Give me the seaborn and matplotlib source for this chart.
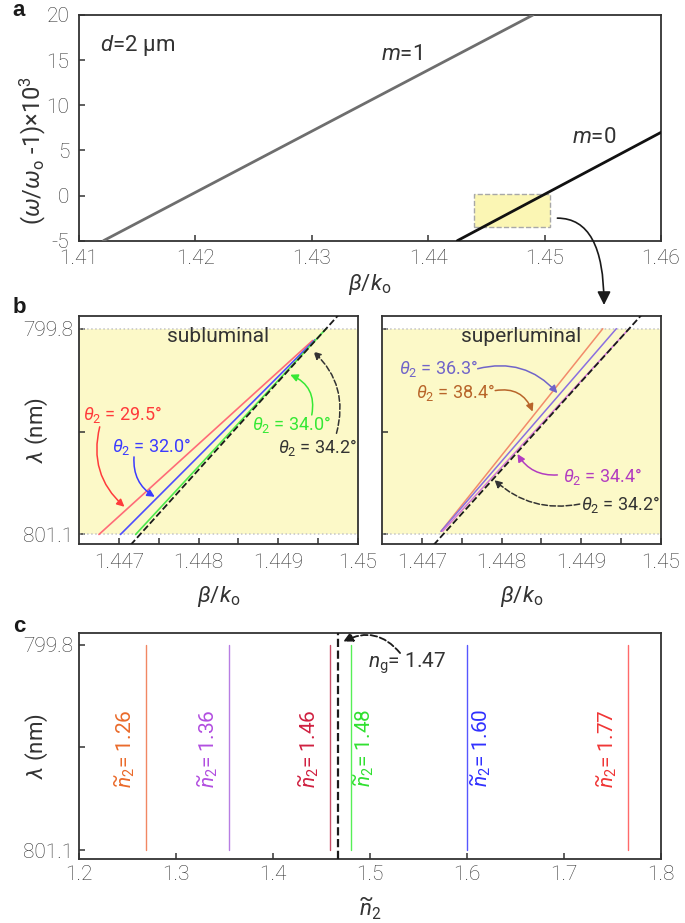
import numpy as np
import pandas as pd
import matplotlib
matplotlib.use("Agg")
import matplotlib.pyplot as plt
from matplotlib.patches import Rectangle
from matplotlib.ticker import FixedLocator, MultipleLocator, FuncFormatter
import seaborn as sns

# ---------------- data ----------------
# panel a: dispersion of the two guided modes, d = 2 um
mode_labels = ["$m$=1", "$m$=0"]
mode_beta = [[1.4121, 1.4490], [1.4425, 1.4600]]
mode_omega = [[-5.0, 20.0], [-5.0, 7.0]]
mode_colors = ["#6e6e6e", "#111111"]
zoom_beta = [1.4439, 1.4505]
zoom_omega = [-3.45, 0.13]

# panel b: wavelength vs beta/k_o for several theta_2
lam_band = [799.8, 801.1]
luminal_theta = "34.2"
luminal_beta = [1.44978, 1.44714]
luminal_lam = [799.70, 801.17]

sub_theta = ["29.5", "32.0", "34.0"]
sub_beta = [[1.44675, 1.44943], [1.44702, 1.44946], [1.44721, 1.44960]]
sub_lam = [[801.1, 799.875], [801.1, 799.87], [801.1, 799.80]]
sub_line_colors = ["#ff6b78", "#4d4dff", "#4ee84e"]
sub_text_colors = ["#ff3b3b", "#3b3bff", "#35e835"]

sup_theta = ["38.4", "36.3", "34.4"]
sup_beta = [[1.44724, 1.44927], [1.44724, 1.44944], [1.44726, 1.44960]]
sup_lam = [[801.08, 799.80], [801.08, 799.80], [801.08, 799.80]]
sup_line_colors = ["#f28b6a", "#8a6fe0", "#d77ad7"]
sup_text_colors = ["#b8652a", "#7064c8", "#b23cc0"]

# panel c: effective index n2 of each wave packet
n2_values = [1.269, 1.355, 1.459, 1.480, 1.600, 1.766]
n2_labels = ["1.26", "1.36", "1.46", "1.48", "1.60", "1.77"]
n2_line_colors = ["#f07a52", "#b070e0", "#c23a55", "#45ee45", "#4545ff", "#ff5a5a"]
n2_text_colors = ["#ea6a2a", "#b24ee0", "#d02040", "#30e030", "#3030ff", "#f03535"]
n2_side = ["l", "l", "l", "r", "r", "l"]
n_group = 1.467
n_group_label = "1.47"

# ---------------- style ----------------
sns.set_theme(style="ticks", rc={
    "axes.edgecolor": "#333333", "axes.linewidth": 1.3,
    "xtick.color": "#333333", "ytick.color": "#333333",
    "text.color": "#333333", "axes.labelcolor": "#333333",
    "axes.unicode_minus": False,
})
plt.rcParams["font.family"] = ["Roboto", "DejaVu Sans"]
plt.rcParams["font.weight"] = "light"
plt.rcParams["axes.labelweight"] = "normal"
plt.rcParams["mathtext.fontset"] = "custom"
plt.rcParams["mathtext.rm"] = "Roboto:weight=normal"
plt.rcParams["mathtext.it"] = "Roboto:style=italic:weight=normal"
plt.rcParams["mathtext.bf"] = "Roboto:weight=bold"

TICK = 15
LABEL = 16
YELLOW = "#fcf9c8"
TXT = dict(fontweight="normal")

fig = plt.figure(figsize=(6.85, 9.23), dpi=100)
W, H = 685.0, 923.0


def add_ax(l, r, t, b):
    return fig.add_axes([l / W, 1 - b / H, (r - l) / W, (b - t) / H])


def style_ticks(ax, xpad, ypad):
    ax.tick_params(which="both", direction="in", length=4, width=1.1,
                   labelsize=TICK, top=False, right=False)
    ax.tick_params(axis="x", pad=xpad)
    ax.tick_params(axis="y", pad=ypad)


# ---------------- panel a ----------------
ax_a = add_ax(79, 661, 15, 240.7)
ax_a.add_patch(Rectangle((zoom_beta[0], zoom_omega[0]), zoom_beta[1] - zoom_beta[0],
                         zoom_omega[1] - zoom_omega[0], facecolor="#fbf6b4",
                         edgecolor="#a8a8a8", ls="--", lw=1.0, zorder=1))
for lab, xb, yo, col in zip(mode_labels, mode_beta, mode_omega, mode_colors):
    sns.lineplot(x=xb, y=yo, ax=ax_a, color=col, lw=2.0, estimator=None, sort=False, zorder=3)
ax_a.set_xlim(1.41, 1.46)
ax_a.set_ylim(-5, 20)
ax_a.xaxis.set_major_locator(MultipleLocator(0.01))
ax_a.yaxis.set_major_locator(MultipleLocator(5))
ax_a.xaxis.set_major_formatter(FuncFormatter(lambda v, p: f"{v:.2f}"))
style_ticks(ax_a, 6, 7)
ax_a.set_xlabel(r"$\beta/k_{\rm o}$", fontsize=LABEL)
ax_a.set_ylabel(r"$(\omega/\omega_{\rm o}$ -1)×10$^3$", fontsize=17)
ax_a.xaxis.set_label_coords(0.5, -0.14)
ax_a.yaxis.set_label_coords(-0.053, 0.40)
ax_a.text(1.4118, 16.6, r"$d$=2 μm", fontsize=16, ha="left", va="center", **TXT)
ax_a.text(1.4377, 15.6, mode_labels[0], fontsize=16, ha="center", va="center", **TXT)
ax_a.text(1.4543, 6.45, mode_labels[1], fontsize=16, ha="center", va="center", **TXT)
ax_a.annotate("", xy=(604 / W, 1 - 305 / H), xycoords="figure fraction",
              xytext=(1.4511, -2.5), textcoords="data", annotation_clip=False,
              arrowprops=dict(arrowstyle="-|>", color="k", lw=1.2, mutation_scale=20,
                              shrinkA=0, shrinkB=0,
                              connectionstyle="angle3,angleA=0,angleB=90"))


# ---------------- panel b ----------------
def panel_b_frame(ax, show_ylabels):
    ax.axhspan(lam_band[0], lam_band[1], color=YELLOW, zorder=0, lw=0)
    for lv in lam_band:
        ax.axhline(lv, color="#c4c4c4", ls=":", lw=1.1, zorder=1)
    sns.lineplot(x=luminal_beta, y=luminal_lam, ax=ax, color="k", lw=1.3,
                 linestyle="--", estimator=None, sort=False, zorder=4)
    ax.set_xlim(1.4465, 1.45)
    ax.set_ylim(801.157, 799.72)
    ax.xaxis.set_major_locator(FixedLocator([1.447, 1.448, 1.449, 1.450]))
    ax.xaxis.set_minor_locator(FixedLocator([1.4475, 1.4485, 1.4495]))
    ax.xaxis.set_major_formatter(FuncFormatter(lambda v, p: f"{v:g}"))
    ax.yaxis.set_major_locator(FixedLocator([799.8, 800.45, 801.1]))
    if show_ylabels:
        ax.set_yticklabels(["799.8", "", "801.1"])
    else:
        ax.set_yticklabels([])
    style_ticks(ax, 7, 4.5)
    ax.set_xlabel(r"$\beta/k_{\rm o}$", fontsize=LABEL)
    ax.xaxis.set_label_coords(0.5, -0.18)


def theta_text(ax, theta, color, pos, tip, start, rad, dashed=False):
    ax.text(pos[0], pos[1], r"$\theta_2$ = " + theta + "°", color=color,
            fontsize=13, ha="left", va="center", **TXT)
    ax.annotate("", xy=tip, xytext=start,
                arrowprops=dict(arrowstyle="-|>", color=color, lw=1.1,
                                ls="--" if dashed else "-", mutation_scale=11,
                                shrinkA=0, shrinkB=0,
                                connectionstyle=f"arc3,rad={rad}"))


ax_b1 = add_ax(79, 358, 316, 543.5)
panel_b_frame(ax_b1, True)
df_sub = pd.DataFrame({"beta": np.concatenate(sub_beta), "lam": np.concatenate(sub_lam),
                       "theta": np.repeat(sub_theta, 2)})
sns.lineplot(data=df_sub, x="beta", y="lam", hue="theta", ax=ax_b1,
             palette=dict(zip(sub_theta, sub_line_colors)), lw=1.2,
             estimator=None, sort=False, legend=False, zorder=3)
ax_b1.set_ylabel(r"$\lambda$ (nm)", fontsize=LABEL)
ax_b1.yaxis.set_label_coords(-0.104, 0.5)
ax_b1.text(1.44825, 799.85, "subluminal", fontsize=15, ha="center", va="center", **TXT)
theta_text(ax_b1, sub_theta[0], sub_text_colors[0], (1.44655, 800.345),
           (1.44707, 800.925), (1.44676, 800.42), 0.3)
theta_text(ax_b1, sub_theta[1], sub_text_colors[1], (1.44691, 800.545),
           (1.44745, 800.862), (1.44719, 800.61), 0.3)
theta_text(ax_b1, sub_theta[2], sub_text_colors[2], (1.44867, 800.408),
           (1.44915, 800.091), (1.44942, 800.345), 0.4)
theta_text(ax_b1, luminal_theta, "#333333", (1.44900, 800.550),
           (1.44944, 799.944), (1.44973, 800.461), 0.3, dashed=True)

ax_b2 = add_ax(382, 661, 316, 543.5)
panel_b_frame(ax_b2, False)
df_sup = pd.DataFrame({"beta": np.concatenate(sup_beta), "lam": np.concatenate(sup_lam),
                       "theta": np.repeat(sup_theta, 2)})
sns.lineplot(data=df_sup, x="beta", y="lam", hue="theta", ax=ax_b2,
             palette=dict(zip(sup_theta, sup_line_colors)), lw=1.1,
             estimator=None, sort=False, legend=False, zorder=3)
ax_b2.set_ylabel("")
ax_b2.text(1.44825, 799.85, "superluminal", fontsize=15, ha="center", va="center", **TXT)
theta_text(ax_b2, sup_theta[1], sup_text_colors[1], (1.44671, 800.053),
           (1.44870, 800.207), (1.44770, 800.053), -0.3)
theta_text(ax_b2, sup_theta[0], sup_text_colors[0], (1.44693, 800.202),
           (1.44839, 800.324), (1.44792, 800.191), -0.4)
theta_text(ax_b2, sup_theta[2], sup_text_colors[2], (1.44877, 800.735),
           (1.44820, 800.592), (1.44870, 800.724), -0.3)
theta_text(ax_b2, luminal_theta, "#333333", (1.44900, 800.908),
           (1.44791, 800.756), (1.44898, 800.908), -0.25, dashed=True)

# ---------------- panel c ----------------
ax_c = add_ax(79, 661, 633, 859)
df_c = pd.DataFrame({"n2": np.repeat(n2_values, 2), "lam": lam_band * len(n2_values),
                     "label": np.repeat(n2_labels, 2)})
sns.lineplot(data=df_c, x="n2", y="lam", hue="label", ax=ax_c,
             palette=dict(zip(n2_labels, n2_line_colors)), lw=1.0, alpha=0.9,
             estimator=None, sort=False, legend=False, zorder=3)
ax_c.axvline(n_group, color="k", ls="--", lw=1.6, zorder=4)
for nv, lab, col, side in zip(n2_values, n2_labels, n2_text_colors, n2_side):
    dx = -15.5 if side == "l" else 9.5
    ax_c.annotate(r"$\widetilde{n}_2$= " + lab, xy=(nv, 800.455), xytext=(dx, 0),
                  textcoords="offset points", rotation=90, color=col,
                  fontsize=15, ha="center", va="center", **TXT)
ax_c.text(1.538, 799.914, r"$n_{\rm g}$= " + n_group_label, fontsize=15,
          ha="center", va="center", **TXT)
ax_c.annotate("", xy=(1.4724, 799.779), xytext=(1.531, 799.851),
              arrowprops=dict(arrowstyle="-|>", color="k", lw=1.3, ls="--",
                              mutation_scale=14, shrinkA=0, shrinkB=0,
                              connectionstyle="arc3,rad=0.4"))
ax_c.set_xlim(1.2, 1.8)
ax_c.set_ylim(801.157, 799.724)
ax_c.xaxis.set_major_locator(MultipleLocator(0.1))
ax_c.xaxis.set_major_formatter(FuncFormatter(lambda v, p: f"{v:.1f}"))
ax_c.yaxis.set_major_locator(FixedLocator([799.8, 800.45, 801.1]))
ax_c.set_yticklabels(["799.8", "", "801.1"])
style_ticks(ax_c, 4.5, 4.5)
ax_c.set_xlabel(r"$\widetilde{n}_2$", fontsize=LABEL)
ax_c.set_ylabel(r"$\lambda$ (nm)", fontsize=LABEL)
ax_c.xaxis.set_label_coords(0.5, -0.16)
ax_c.yaxis.set_label_coords(-0.05, 0.5)

# panel letters
for letter, yp in zip(["a", "b", "c"], [10, 307, 626]):
    fig.text(19 / W, 1 - yp / H, letter, fontsize=16, fontweight="bold",
             family=["Liberation Sans", "DejaVu Sans"], ha="center", va="center",
             color="k")

fig.savefig("out.png", dpi=100)
